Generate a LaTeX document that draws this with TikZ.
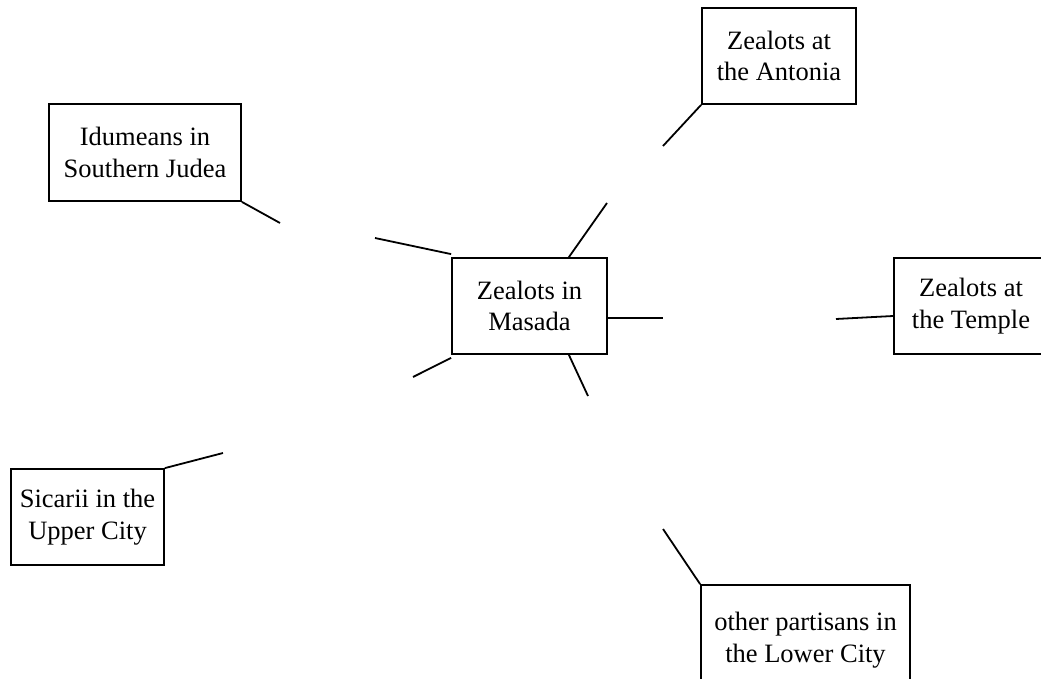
\documentclass[tikz,border=0pt]{standalone}
\usepackage{fontspec}
\setmainfont{Liberation Serif}
\usetikzlibrary{calc}
\begin{document}
\begin{tikzpicture}[x=1pt,y=-1pt,
  grp/.style={draw=black,line width=1.8pt,align=center,inner sep=0pt,
    font=\fontsize{26.5}{31.5}\selectfont,text=black},
  link/.style={draw=black,line width=1.8pt}]
\useasboundingbox (0,0) rectangle (1041,679);
\fill[white] (0,0) rectangle (1041,679);
% boxes
\node[grp,minimum width=154pt,minimum height=96pt] (ant) at (779,56) {Zealots at\\the Antonia};
\node[grp,minimum width=192pt,minimum height=97pt] (idu) at (145,152.5) {Idumeans in\\Southern Judea};
\node[grp,minimum width=155pt,minimum height=96pt] (mas) at (529.5,306) {Zealots in\\Masada};
\node[grp,minimum width=154pt,minimum height=96pt] (tem) at (971,306) {Zealots at\\the Temple};
\node[grp,minimum width=153pt,minimum height=96pt] (sic) at (87.5,517) {Sicarii in the\\Upper City};
\node[grp,minimum width=209pt,minimum height=110pt] (oth) at (805.5,640) {other partisans in\\the Lower City};
% free ends
\coordinate (e1) at (280,223);
\coordinate (e2) at (375,238);
\coordinate (e3) at (607,203);
\coordinate (e4) at (663,146);
\coordinate (e5) at (663,318);
\coordinate (e6) at (836,319);
\coordinate (e7) at (413,377);
\coordinate (e8) at (588,396);
\coordinate (e9) at (223,453);
\coordinate (e10) at (663,529);
% connectors
\draw[link] (idu.south east) -- (e1);
\draw[link] ([yshift=3pt]mas.north west) -- (e2);
\draw[link] ([xshift=-39pt]mas.north east) -- (e3);
\draw[link] (ant.south west) -- (e4);
\draw[link] ([yshift=-12pt]mas.east) -- (e5);
\draw[link] ([yshift=-10pt]tem.west) -- (e6);
\draw[link] ([yshift=-3pt]mas.south west) -- (e7);
\draw[link] ([xshift=-39pt]mas.south east) -- (e8);
\draw[link] (sic.north east) -- (e9);
\draw[link] (oth.north west) -- (e10);
\end{tikzpicture}
\end{document}
